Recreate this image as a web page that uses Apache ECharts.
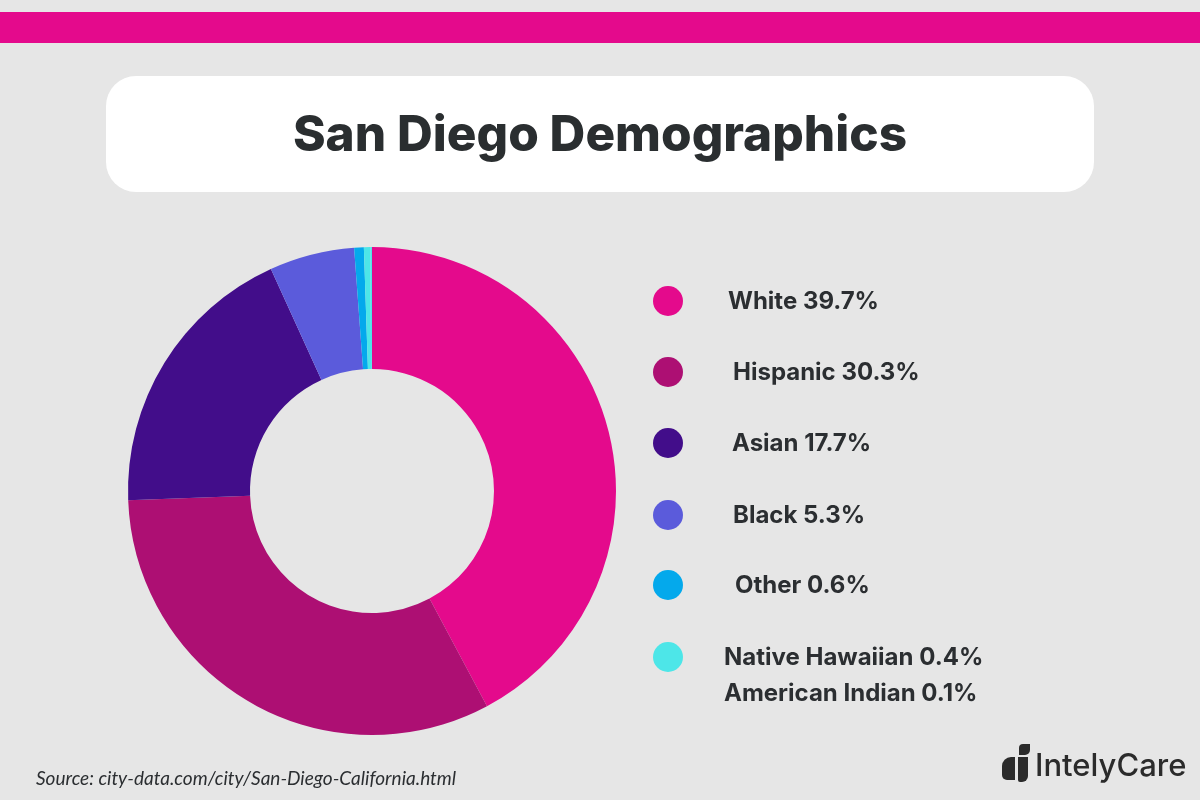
<!DOCTYPE html>
<html>
<head>
<meta charset="utf-8">
<title>San Diego Demographics</title>
<script src="https://cdn.jsdelivr.net/npm/echarts@6/dist/echarts.min.js"></script>
<style>
  html, body { margin: 0; padding: 0; background: #e6e6e6; }
  #chart { width: 1200px; height: 800px; }
</style>
</head>
<body>
<div id="chart"></div>
<script>
// data
var groups = ['White', 'Hispanic', 'Asian', 'Black', 'Other', 'Native Hawaiian', 'American Indian'];
var shares = [39.7, 30.3, 17.7, 5.3, 0.6, 0.4, 0.1];
var colors = ['#e40a8c', '#ad0f73', '#420d8a', '#5b5bdb', '#04a9ec', '#4de6e8', '#4de6e8'];

// legend rows (last row carries two groups)
var legendRows = [[0], [1], [2], [3], [4], [5, 6]];
var legendY = [301, 372, 443, 515, 585, 657];
var legendTextX = [728, 733, 732, 733, 735, 724];

var chart = echarts.init(document.getElementById('chart'));

var graphics = [
    // top magenta band
    { type: 'rect', shape: { x: 0, y: 12, width: 1200, height: 31 }, style: { fill: '#e40a8c' } },
    // title card
    { type: 'rect', shape: { x: 106, y: 76, width: 988, height: 116, r: 30 }, style: { fill: '#ffffff' } },
    {
        type: 'text', x: 600, y: 136,
        style: {
            text: 'San Diego Demographics', fill: '#2a2e30',
            font: '800 49.5px Inter', align: 'center', verticalAlign: 'middle'
        }
    },
    {
        type: 'text', x: 36, y: 779,
        style: {
            text: 'Source: city-data.com/city/San-Diego-California.html', fill: '#2b2e31',
            font: 'italic 19px Lato', align: 'left', verticalAlign: 'middle'
        }
    },
    // logo mark
    { type: 'rect', shape: { x: 1002, y: 757, width: 13, height: 23, r: [9, 0, 0, 5] }, style: { fill: '#2b2b2b' } },
    { type: 'rect', shape: { x: 1018, y: 757, width: 10, height: 25, r: [0, 0, 6, 2] }, style: { fill: '#2b2b2b' } },
    { type: 'rect', shape: { x: 1019, y: 744, width: 11, height: 11, r: [4, 0, 5, 0] }, style: { fill: '#2b2b2b' } },
    {
        type: 'text', x: 1035, y: 767,
        style: { text: 'IntelyCare', fill: '#2b2b2b', font: '500 31px Inter', align: 'left', verticalAlign: 'middle' }
    }
];

legendRows.forEach(function (row, i) {
    graphics.push({
        type: 'circle', shape: { cx: 668, cy: legendY[i], r: 15 },
        style: { fill: colors[row[0]] }
    });
    row.forEach(function (k, j) {
        graphics.push({
            type: 'text', x: legendTextX[i], y: legendY[i] + 1 + j * 36,
            style: {
                text: groups[k] + ' ' + shares[k].toFixed(1) + '%', fill: '#2b2e31',
                font: 'bold 24px Inter', align: 'left', verticalAlign: 'middle'
            }
        });
    });
});

var option = {
    backgroundColor: '#e6e6e6',
    animation: false,
    graphic: graphics,
    series: [
        {
            type: 'pie',
            center: [372, 491],
            radius: [122, 244],
            startAngle: 90,
            clockwise: true,
            label: { show: false },
            labelLine: { show: false },
            emphasis: { disabled: true },
            itemStyle: { borderWidth: 0 },
            data: groups.map(function (g, i) {
                return { name: g, value: shares[i], itemStyle: { color: colors[i] } };
            })
        }
    ]
};
chart.setOption(option);
</script>
</body>
</html>
